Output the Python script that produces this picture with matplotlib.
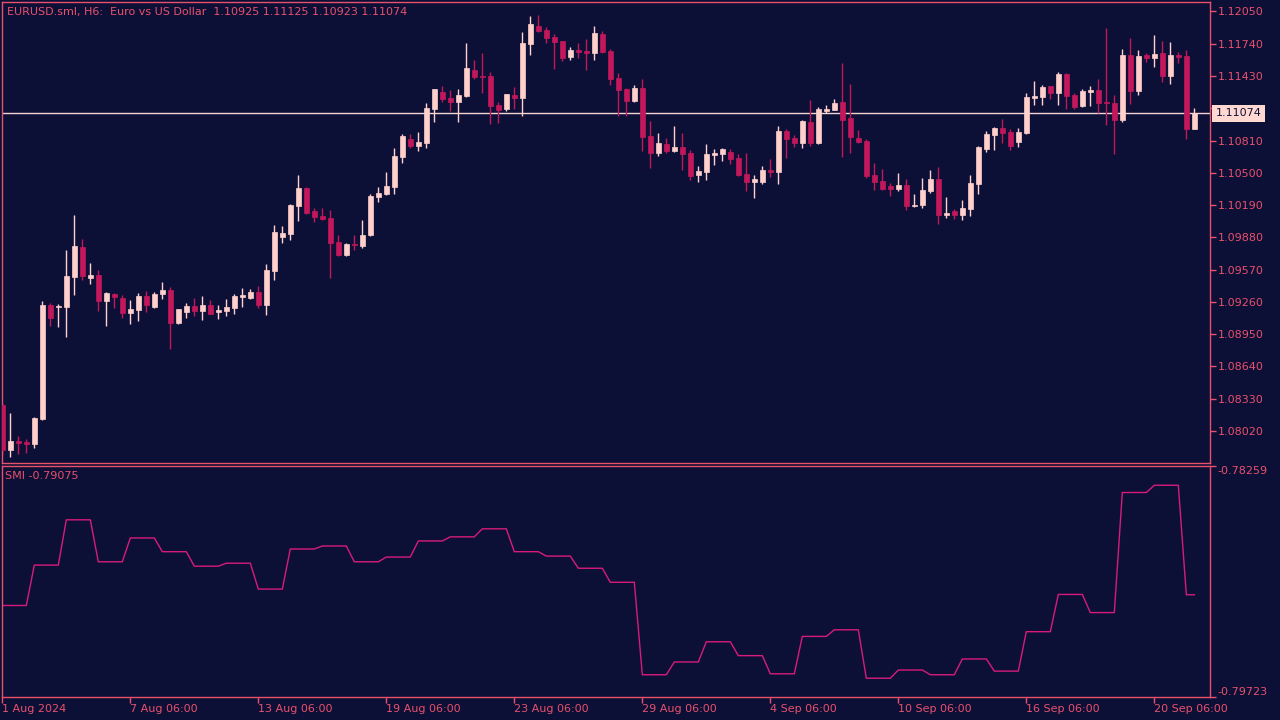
import numpy as np
import matplotlib.pyplot as plt

# EURUSD H6, 1 Aug - 20 Sep 2024
opens = [
    1.08270, 1.07838, 1.07924, 1.07915, 1.07895, 1.08136, 1.09231, 1.09211, 1.09211, 1.09500,
    1.09788, 1.09490, 1.09519, 1.09269, 1.09336, 1.09298, 1.09154, 1.09183, 1.09317, 1.09211,
    1.09336, 1.09375, 1.09058, 1.09163, 1.09221, 1.09173, 1.09231, 1.09163, 1.09173, 1.09202,
    1.09308, 1.09298, 1.09356, 1.09231, 1.09557, 1.09884, 1.09913, 1.10182, 1.10355, 1.10134,
    1.10086, 1.10066, 1.09836, 1.09711, 1.09817, 1.09797, 1.09903, 1.10268, 1.10297, 1.10364,
    1.10652, 1.10825, 1.10758, 1.10787, 1.11113, 1.11277, 1.11219, 1.11181, 1.11238, 1.11488,
    1.11430, 1.11430, 1.11152, 1.11113, 1.11248, 1.11219, 1.11738, 1.11911, 1.11872, 1.11805,
    1.11767, 1.11613, 1.11680, 1.11671, 1.11651, 1.11834, 1.11671, 1.11411, 1.11306, 1.11190,
    1.11315, 1.10854, 1.10691, 1.10777, 1.10710, 1.10748, 1.10691, 1.10480, 1.10508, 1.10672,
    1.10681, 1.10700, 1.10643, 1.10489, 1.10412, 1.10412, 1.10527, 1.10508, 1.10902, 1.10835,
    1.10787, 1.10989, 1.10787, 1.11094, 1.11104, 1.11181, 1.11027, 1.10835, 1.10806, 1.10480,
    1.10422, 1.10374, 1.10345, 1.10383, 1.10182, 1.10191, 1.10326, 1.10441, 1.10095, 1.10134,
    1.10095, 1.10153, 1.10393, 1.10729, 1.10864, 1.10931, 1.10892, 1.10796, 1.10883, 1.11219,
    1.11229, 1.11334, 1.11267, 1.11450, 1.11248, 1.11142, 1.11277, 1.11296, 1.11181, 1.11171,
    1.11008, 1.11632, 1.11286, 1.11632, 1.11603, 1.11651, 1.11430, 1.11632, 1.11623, 1.10925,
]
highs = [
    1.08289, 1.08193, 1.07972, 1.07944, 1.08155, 1.09269, 1.09250, 1.09240, 1.09759, 1.10095,
    1.09865, 1.09634, 1.09567, 1.09356, 1.09346, 1.09327, 1.09279, 1.09346, 1.09365, 1.09356,
    1.09452, 1.09404, 1.09195, 1.09250, 1.09298, 1.09317, 1.09279, 1.09231, 1.09288, 1.09336,
    1.09394, 1.09384, 1.09413, 1.09625, 1.09999, 1.09990, 1.10201, 1.10480, 1.10364, 1.10163,
    1.10163, 1.10143, 1.09903, 1.09826, 1.09903, 1.10047, 1.10297, 1.10364, 1.10508, 1.10739,
    1.10873, 1.10873, 1.10892, 1.11171, 1.11310, 1.11334, 1.11296, 1.11306, 1.11747, 1.11584,
    1.11651, 1.11469, 1.11181, 1.11262, 1.11325, 1.11853, 1.12007, 1.12016, 1.11901, 1.11834,
    1.11770, 1.11709, 1.11747, 1.11786, 1.11911, 1.11863, 1.11690, 1.11459, 1.11315, 1.11344,
    1.11402, 1.10998, 1.10883, 1.10835, 1.10950, 1.10883, 1.10720, 1.10566, 1.10777, 1.10729,
    1.10735, 1.10729, 1.10681, 1.10691, 1.10480, 1.10566, 1.10633, 1.10950, 1.10921, 1.10864,
    1.11008, 1.11200, 1.11133, 1.11152, 1.11210, 1.11555, 1.11354, 1.10912, 1.10825, 1.10595,
    1.10537, 1.10403, 1.10499, 1.10441, 1.10297, 1.10451, 1.10527, 1.10556, 1.10268, 1.10153,
    1.10239, 1.10480, 1.10758, 1.10902, 1.10941, 1.11017, 1.10921, 1.10931, 1.11267, 1.11382,
    1.11344, 1.11338, 1.11469, 1.11455, 1.11267, 1.11306, 1.11334, 1.11402, 1.11892, 1.11248,
    1.11690, 1.11796, 1.11680, 1.11651, 1.11824, 1.11767, 1.11757, 1.11661, 1.11680, 1.11125,
]
lows = [
    1.07790, 1.07771, 1.07799, 1.07809, 1.07857, 1.08130, 1.09029, 1.09019, 1.08923, 1.09327,
    1.09471, 1.09432, 1.09173, 1.09029, 1.09202, 1.09106, 1.09048, 1.09077, 1.09163, 1.09202,
    1.09288, 1.08808, 1.09048, 1.09106, 1.09125, 1.09087, 1.09140, 1.09096, 1.09125, 1.09144,
    1.09211, 1.09288, 1.09202, 1.09135, 1.09471, 1.09826, 1.09855, 1.10038, 1.10105, 1.10028,
    1.10047, 1.09490, 1.09701, 1.09701, 1.09759, 1.09778, 1.09894, 1.10220, 1.10290, 1.10297,
    1.10595, 1.10739, 1.10710, 1.10739, 1.10989, 1.11181, 1.11094, 1.10989, 1.11230, 1.11402,
    1.11267, 1.10969, 1.10979, 1.11094, 1.11113, 1.11046, 1.11632, 1.11853, 1.11747, 1.11498,
    1.11575, 1.11584, 1.11603, 1.11488, 1.11584, 1.11651, 1.11344, 1.11046, 1.11046, 1.11181,
    1.10710, 1.10547, 1.10662, 1.10691, 1.10705, 1.10527, 1.10431, 1.10412, 1.10431, 1.10576,
    1.10614, 1.10585, 1.10470, 1.10326, 1.10259, 1.10393, 1.10460, 1.10393, 1.10643, 1.10748,
    1.10739, 1.10758, 1.10777, 1.11075, 1.11100, 1.10652, 1.10691, 1.10790, 1.10451, 1.10335,
    1.10335, 1.10278, 1.10326, 1.10143, 1.10172, 1.10163, 1.10307, 1.10009, 1.10066, 1.10057,
    1.10047, 1.10086, 1.10297, 1.10700, 1.10720, 1.10787, 1.10720, 1.10748, 1.10873, 1.11152,
    1.11152, 1.11210, 1.11152, 1.11113, 1.11113, 1.11133, 1.11142, 1.11075, 1.10960, 1.10681,
    1.10989, 1.11162, 1.11248, 1.11565, 1.11517, 1.11373, 1.11354, 1.11555, 1.10825, 1.10923,
]
closes = [
    1.07838, 1.07924, 1.07905, 1.07895, 1.08145, 1.09231, 1.09106, 1.09221, 1.09509, 1.09797,
    1.09509, 1.09519, 1.09269, 1.09346, 1.09308, 1.09154, 1.09192, 1.09317, 1.09231, 1.09336,
    1.09375, 1.09058, 1.09192, 1.09221, 1.09173, 1.09231, 1.09144, 1.09183, 1.09211, 1.09317,
    1.09327, 1.09356, 1.09231, 1.09567, 1.09932, 1.09922, 1.10191, 1.10355, 1.10114, 1.10076,
    1.10057, 1.09826, 1.09711, 1.09817, 1.09807, 1.09903, 1.10278, 1.10307, 1.10374, 1.10662,
    1.10854, 1.10758, 1.10796, 1.11123, 1.11306, 1.11210, 1.11181, 1.11248, 1.11507, 1.11421,
    1.11421, 1.11142, 1.11104, 1.11258, 1.11219, 1.11747, 1.11930, 1.11863, 1.11796, 1.11757,
    1.11603, 1.11680, 1.11661, 1.11651, 1.11844, 1.11661, 1.11402, 1.11296, 1.11190, 1.11315,
    1.10845, 1.10691, 1.10787, 1.10710, 1.10748, 1.10681, 1.10470, 1.10518, 1.10681, 1.10691,
    1.10729, 1.10633, 1.10480, 1.10412, 1.10441, 1.10527, 1.10508, 1.10902, 1.10825, 1.10787,
    1.10998, 1.10787, 1.11113, 1.11113, 1.11171, 1.11008, 1.10845, 1.10796, 1.10470, 1.10412,
    1.10345, 1.10345, 1.10383, 1.10182, 1.10191, 1.10335, 1.10441, 1.10095, 1.10114, 1.10095,
    1.10163, 1.10403, 1.10748, 1.10873, 1.10931, 1.10883, 1.10758, 1.10892, 1.11229, 1.11238,
    1.11325, 1.11267, 1.11450, 1.11238, 1.11133, 1.11286, 1.11296, 1.11171, 1.11171, 1.11008,
    1.11632, 1.11286, 1.11623, 1.11603, 1.11642, 1.11430, 1.11632, 1.11613, 1.10921, 1.11074,
]

# SMI indicator, one value per bar
smi = [
    -0.79143, -0.79143, -0.79143, -0.79143, -0.78887, -0.78887, -0.78887, -0.78887,
    -0.78600, -0.78600, -0.78600, -0.78600, -0.78866, -0.78866, -0.78866, -0.78866,
    -0.78715, -0.78715, -0.78715, -0.78715, -0.78802, -0.78802, -0.78802, -0.78802,
    -0.78894, -0.78894, -0.78894, -0.78894, -0.78875, -0.78875, -0.78875, -0.78875,
    -0.79039, -0.79039, -0.79039, -0.79039, -0.78785, -0.78785, -0.78785, -0.78785,
    -0.78766, -0.78766, -0.78766, -0.78766, -0.78866, -0.78866, -0.78866, -0.78866,
    -0.78836, -0.78836, -0.78836, -0.78836, -0.78734, -0.78734, -0.78734, -0.78734,
    -0.78708, -0.78708, -0.78708, -0.78708, -0.78657, -0.78657, -0.78657, -0.78657,
    -0.78802, -0.78802, -0.78802, -0.78802, -0.78830, -0.78830, -0.78830, -0.78830,
    -0.78907, -0.78907, -0.78907, -0.78907, -0.78996, -0.78996, -0.78996, -0.78996,
    -0.79582, -0.79582, -0.79582, -0.79582, -0.79501, -0.79501, -0.79501, -0.79501,
    -0.79373, -0.79373, -0.79373, -0.79373, -0.79461, -0.79461, -0.79461, -0.79461,
    -0.79576, -0.79576, -0.79576, -0.79576, -0.79339, -0.79339, -0.79339, -0.79339,
    -0.79297, -0.79297, -0.79297, -0.79297, -0.79604, -0.79604, -0.79604, -0.79604,
    -0.79552, -0.79552, -0.79552, -0.79552, -0.79582, -0.79582, -0.79582, -0.79582,
    -0.79482, -0.79482, -0.79482, -0.79482, -0.79559, -0.79559, -0.79559, -0.79559,
    -0.79309, -0.79309, -0.79309, -0.79309, -0.79073, -0.79073, -0.79073, -0.79073,
    -0.79188, -0.79188, -0.79188, -0.79188, -0.78427, -0.78427, -0.78427, -0.78427,
    -0.78381, -0.78381, -0.78381, -0.78381, -0.79075, -0.79075,
]

price_ticks = [1.12050, 1.11740, 1.11430, 1.11120, 1.10810, 1.10500, 1.10190,
               1.09880, 1.09570, 1.09260, 1.08950, 1.08640, 1.08330, 1.08020]
smi_ticks = [-0.78259, -0.79723]
time_tick_bars = [0, 16, 32, 48, 64, 80, 96, 112, 128, 144]
time_tick_labels = ["1 Aug 2024", "7 Aug 06:00", "13 Aug 06:00", "19 Aug 06:00",
                    "23 Aug 06:00", "29 Aug 06:00", "4 Sep 06:00", "10 Sep 06:00",
                    "16 Sep 06:00", "20 Sep 06:00"]
last_price = 1.11074

bg = "#0d1036"
fg = "#e8506c"
bull = "#ffd0cc"
bear = "#c2185b"
smi_col = "#d81b7a"

o = np.array(opens)
h = np.array(highs)
l = np.array(lows)
c = np.array(closes)
x = np.arange(len(o))
up = c >= o
cols = np.where(up, bull, bear)

fig = plt.figure(figsize=(12.8, 7.2), dpi=100)
fig.patch.set_facecolor(bg)

ax = fig.add_axes([2 / 1280, 257 / 720, 1208 / 1280, 461 / 720])
ax2 = fig.add_axes([2 / 1280, 23 / 720, 1208 / 1280, 231 / 720])

for a in (ax, ax2):
    a.set_facecolor(bg)
    for s in a.spines.values():
        s.set_color(fg)
        s.set_linewidth(1.0)
    a.set_xlim(-0.04, 150.96)
    a.yaxis.tick_right()
    a.tick_params(axis="y", colors=fg, labelcolor=fg, direction="out",
                  length=4, width=1, labelsize=8, pad=1.5)

# candles
ax.axhline(last_price, color="#f3d3d3", lw=1.0, zorder=1)
ax.vlines(x, l, h, colors=cols, lw=1.0, zorder=2)
ax.bar(x, np.maximum(np.abs(c - o), 1e-6), bottom=np.minimum(o, c), width=0.58,
       color=cols, edgecolor=cols, linewidth=0.5, zorder=3)
ax.set_ylim(1.07713, 1.12141)
ax.set_yticks(price_ticks)
# the label under the current-price box is hidden in the terminal
ax.set_yticklabels(["" if abs(t - last_price) < 0.001 else f"{t:.5f}" for t in price_ticks])
ax.set_xticks([])

ax.annotate(f"{last_price:.5f}", xy=(1, last_price), xycoords=("axes fraction", "data"),
            xytext=(4, 0), textcoords="offset points", va="center", ha="left",
            fontsize=8, color=bg, annotation_clip=False, zorder=10,
            bbox=dict(boxstyle="square,pad=0.32", fc="#ffd8d2", ec="none"))

# SMI subwindow
ax2.plot(x, smi, color=smi_col, lw=1.0)
ax2.set_ylim(smi_ticks[1], smi_ticks[0])
ax2.set_yticks(smi_ticks)
ax2.set_yticklabels([f"{t:.5f}" for t in smi_ticks])
lbls = ax2.get_yticklabels()
lbls[0].set_va("top")
lbls[1].set_va("bottom")
ax2.set_xticks(time_tick_bars)
ax2.set_xticklabels(time_tick_labels, ha="left")
ax2.tick_params(axis="x", colors=fg, labelcolor=fg, direction="out",
                length=4, width=1, labelsize=8, pad=1)

fig.text(7 / 1280, 1 - 12 / 720,
         "EURUSD.sml, H6:  Euro vs US Dollar  1.10925 1.11125 1.10923 1.11074",
         color=fg, fontsize=8, ha="left", va="center")
fig.text(5 / 1280, 1 - 476 / 720, "SMI -0.79075", color=fg, fontsize=8,
         ha="left", va="center")

fig.savefig("out.png", dpi=100, facecolor=bg)
